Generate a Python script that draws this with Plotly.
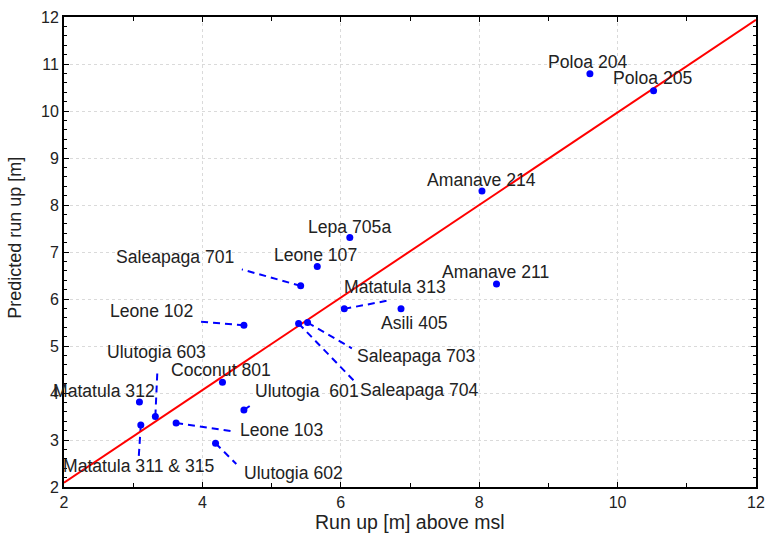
import plotly.graph_objects as go

# ---- data ----
names = ["Poloa 204", "Poloa 205", "Amanave 214", "Lepa 705a", "Leone 107",
         "Saleapaga 701", "Amanave 211", "Matatula 313", "Asili 405", "Leone 102",
         "Saleapaga 703", "Saleapaga 704", "Ulutogia 603", "Coconut 801",
         "Matatula 312", "Ulutogia  601", "Leone 103", "Matatula 311 & 315",
         "Ulutogia 602"]
run_up = [9.60, 10.52, 8.04, 6.13, 5.66, 5.42, 8.25, 6.05, 6.87, 4.60,
          5.52, 5.39, 3.32, 4.29, 3.09, 4.60, 3.62, 3.11, 4.19]
predicted = [10.79, 10.43, 8.30, 7.31, 6.69, 6.28, 6.32, 5.79, 5.79, 5.44,
             5.50, 5.48, 3.50, 4.23, 3.81, 3.64, 3.36, 3.32, 2.93]

fit_x = [2, 12]
fit_y = [2.09, 11.94]

# label anchor positions (data units)
label_x = [9.57, 10.51, 8.03, 6.13, 5.64, 3.60, 8.24, 6.78, 7.06, 3.27,
           7.09, 7.14, 3.34, 4.27, 2.58, 5.51, 5.14, 3.07, 5.31]
label_y = [11.04, 10.70, 8.53, 7.53, 6.94, 6.89, 6.57, 6.26, 5.49, 5.74,
           4.79, 4.06, 4.87, 4.49, 4.04, 4.04, 3.21, 2.45, 2.30]

# leader lines: point index -> far end (data units)
leader_idx = [5, 9, 7, 10, 11, 12, 17, 16, 18, 15]
leader_x_end = [4.57, 3.96, 6.73, 6.16, 6.19, 3.35, 3.08, 4.46, 4.49, 4.70]
leader_y_end = [6.63, 5.52, 5.98, 4.95, 4.26, 4.49, 2.64, 3.18, 2.49, 3.74]

FONT = "Arial, 'Liberation Sans', sans-serif"
TXT = "#222222"

lx, ly = [], []
for i, ex, ey in zip(leader_idx, leader_x_end, leader_y_end):
    lx += [run_up[i], ex, None]
    ly += [predicted[i], ey, None]

fig = go.Figure()
fig.add_trace(go.Scatter(x=lx, y=ly, mode="lines",
                         line=dict(color="#0000FF", width=2, dash="7px,5px"),
                         hoverinfo="skip", showlegend=False))
fig.add_trace(go.Scatter(x=fit_x, y=fit_y, mode="lines",
                         line=dict(color="#FF0000", width=2),
                         showlegend=False))
fig.add_trace(go.Scatter(x=run_up, y=predicted, mode="markers",
                         marker=dict(color="#0000FF", size=7),
                         text=names, showlegend=False))

for t, x, y in zip(names, label_x, label_y):
    fig.add_annotation(x=x, y=y, text=t, showarrow=False,
                       xanchor="center", yanchor="middle",
                       font=dict(family=FONT, size=17.6, color=TXT))

fig.add_annotation(xref="paper", yref="paper", x=0.5, y=-0.102,
                   text="Run up [m] above msl", showarrow=False,
                   xanchor="center", yanchor="bottom",
                   font=dict(family=FONT, size=19.5, color=TXT))
fig.add_annotation(xref="paper", yref="paper", x=-0.071, y=0.53,
                   text="Predicted run up [m]", showarrow=False, textangle=-90,
                   xanchor="center", yanchor="middle",
                   font=dict(family=FONT, size=18, color=TXT))

axis_common = dict(showline=True, linecolor="black", linewidth=2, mirror="allticks",
                   ticks="inside", tickcolor="black", ticklen=5, tickwidth=1,
                   showgrid=True, gridcolor="#dadada", griddash="dot", gridwidth=1,
                   zeroline=False, automargin=False,
                   tickfont=dict(family=FONT, size=16, color=TXT))

fig.update_xaxes(range=[2, 12], dtick=2, tick0=2,
                 minor=dict(dtick=1, ticklen=4, tickcolor="black", showgrid=False, ticks="inside"),
                 **axis_common)
fig.update_yaxes(range=[2, 12], dtick=1, tick0=2,
                 minor=dict(dtick=0.2, ticklen=3, tickcolor="black", showgrid=False, ticks="inside"),
                 **axis_common)

fig.update_layout(width=766, height=538,
                  margin=dict(l=64, r=10, t=17, b=51),
                  plot_bgcolor="white", paper_bgcolor="white",
                  font=dict(family=FONT, color=TXT))

fig.write_html("out.html")
